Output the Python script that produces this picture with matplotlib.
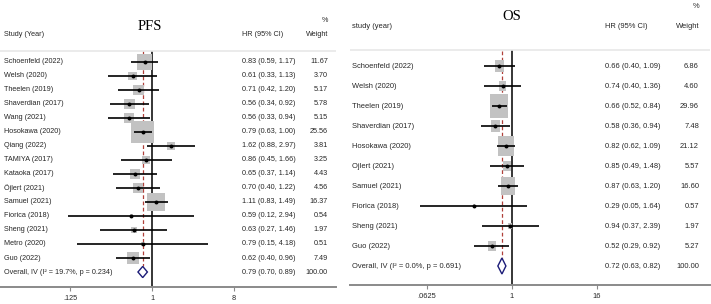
import matplotlib.pyplot as plt
import numpy as np

plt.rcParams['font.family'] = ['Liberation Sans', 'DejaVu Sans']

# PFS panel data
pfs_studies = ['Schoenfeld (2022)', 'Welsh (2020)', 'Theelen (2019)', 'Shaverdian (2017)',
               'Wang (2021)', 'Hosokawa (2020)', 'Qiang (2022)', 'TAMIYA (2017)',
               'Kataoka (2017)', 'Öjlert (2021)', 'Samuel (2021)', 'Fiorica (2018)',
               'Sheng (2021)', 'Metro (2020)', 'Guo (2022)']
pfs_hr = [0.83, 0.61, 0.71, 0.56, 0.56, 0.79, 1.62, 0.86, 0.65, 0.70, 1.11, 0.59, 0.63, 0.79, 0.62]
pfs_lo = [0.59, 0.33, 0.42, 0.34, 0.33, 0.63, 0.88, 0.45, 0.37, 0.40, 0.83, 0.12, 0.27, 0.15, 0.40]
pfs_hi = [1.17, 1.13, 1.20, 0.92, 0.94, 1.00, 2.97, 1.66, 1.14, 1.22, 1.49, 2.94, 1.46, 4.18, 0.96]
pfs_w = [11.67, 3.70, 5.17, 5.78, 5.15, 25.56, 3.81, 3.25, 4.43, 4.56, 16.37, 0.54, 1.97, 0.51, 7.49]
pfs_overall = (0.79, 0.70, 0.89)
pfs_overall_label = 'Overall, IV (I² = 19.7%, p = 0.234)'
pfs_ticks = [0.125, 1, 8]
pfs_ticklabels = ['.125', '1', '8']

# OS panel data
os_studies = ['Schoenfeld (2022)', 'Welsh (2020)', 'Theelen (2019)', 'Shaverdian (2017)',
              'Hosokawa (2020)', 'Ojlert (2021)', 'Samuel (2021)', 'Fiorica (2018)',
              'Sheng (2021)', 'Guo (2022)']
os_hr = [0.66, 0.74, 0.66, 0.58, 0.82, 0.85, 0.87, 0.29, 0.94, 0.52]
os_lo = [0.40, 0.40, 0.52, 0.36, 0.62, 0.49, 0.63, 0.05, 0.37, 0.29]
os_hi = [1.09, 1.36, 0.84, 0.94, 1.09, 1.48, 1.20, 1.64, 2.39, 0.92]
os_w = [6.86, 4.60, 29.96, 7.48, 21.12, 5.57, 16.60, 0.57, 1.97, 5.27]
os_overall = (0.72, 0.63, 0.82)
os_overall_label = 'Overall, IV (I² = 0.0%, p = 0.691)'
os_ticks = [0.0625, 1, 16]
os_ticklabels = ['.0625', '1', '16']

W, H = 711, 304
TXT = '#262626'
BOX = '#c2c2c2'


def draw_panel(ax, title, head, studies, hr, lo, hi, w, overall, overall_label,
               ticks, ticklabels, xlim, ylim, cols, fs, box_k, box_aspect):
    n = len(studies)
    y = np.arange(n)
    ax.set_xscale('log', base=2)
    ax.set_xlim(*xlim)
    ax.set_ylim(*ylim)
    for s in ['top', 'left', 'right']:
        ax.spines[s].set_visible(False)
    ax.spines['bottom'].set_color('#8a8a8a')
    ax.spines['bottom'].set_linewidth(1.4)
    ax.set_yticks([])
    ax.xaxis.set_major_locator(plt.FixedLocator(ticks))
    ax.xaxis.set_minor_locator(plt.NullLocator())
    ax.set_xticklabels(ticklabels)
    ax.tick_params(axis='x', length=3, width=0.8, color='#8a8a8a', labelsize=fs,
                   labelcolor=TXT, pad=2.5)

    tr = ax.get_yaxis_transform()  # x in axes, y in data
    x_lab, x_hr, x_w, x_title = cols
    yh = -2.0
    ax.text(x_lab, yh, head, transform=tr, fontsize=fs, color=TXT, va='center', ha='left')
    ax.text(x_hr, yh, 'HR (95% CI)', transform=tr, fontsize=fs, color=TXT, va='center', ha='left')
    ax.text(x_w, yh, 'Weight', transform=tr, fontsize=fs, color=TXT, va='center', ha='right')
    ax.text(x_w, yh - 1.0, '%', transform=tr, fontsize=fs, color=TXT, va='center', ha='right')
    ax.text(x_title, yh - 0.5, title, transform=tr, fontsize=10.5, color='black',
            va='center', ha='center', family='Liberation Serif')
    ax.axhline(-0.8, color='#e8e8e8', lw=1.2)

    # study rows
    verts = [(-box_aspect / 2, -0.5), (box_aspect / 2, -0.5), (box_aspect / 2, 0.5),
             (-box_aspect / 2, 0.5), (-box_aspect / 2, -0.5)]
    ax.scatter(hr, y, s=np.array(w) * box_k, marker=verts, color=BOX, lw=0, zorder=2)
    ax.hlines(y, lo, hi, color='black', lw=1.2, zorder=3)
    ax.scatter(hr, y, s=8, marker='o', color='black', lw=0, zorder=4)
    for i in range(n):
        ax.text(x_lab, y[i], studies[i], transform=tr, fontsize=fs, color=TXT, va='center')
        ax.text(x_hr, y[i], f'{hr[i]:.2f} ({lo[i]:.2f}, {hi[i]:.2f})', transform=tr,
                fontsize=fs, color=TXT, va='center')
        ax.text(x_w, y[i], f'{w[i]:.2f}', transform=tr, fontsize=fs, color=TXT,
                va='center', ha='right')

    # overall
    est, olo, ohi = overall
    dh = 0.4
    ax.fill([olo, est, ohi, est, olo], [n, n - dh, n, n + dh, n], facecolor='white',
            edgecolor='#1c1c78', lw=1.0, zorder=4)
    ax.text(x_lab, n, overall_label, transform=tr, fontsize=fs, color=TXT, va='center')
    ax.text(x_hr, n, f'{est:.2f} ({olo:.2f}, {ohi:.2f})', transform=tr, fontsize=fs,
            color=TXT, va='center')
    ax.text(x_w, n, '100.00', transform=tr, fontsize=fs, color=TXT, va='center', ha='right')

    ax.vlines(1, -0.8, ylim[0], color='black', lw=1.1, zorder=1)
    ax.vlines(est, -0.75, n - dh, color='#b0403a', lw=0.9, linestyles=(0, (3, 2)), zorder=1)


fig = plt.figure(figsize=(W / 100, H / 100), dpi=100)

# left panel: axis from x=0..336 px, bottom at 287 px; 1 at 152 px, 27.3 px per doubling
ax1 = fig.add_axes([0 / W, (H - 287) / H, 336 / W, 287 / H])
draw_panel(ax1, 'PFS', 'Study (Year)', pfs_studies, pfs_hr, pfs_lo, pfs_hi, pfs_w,
           pfs_overall, pfs_overall_label, pfs_ticks, pfs_ticklabels,
           (2 ** (-152 / 27.3), 2 ** (184 / 27.3)),
           ((287 - 62) / 14, -62 / 14),
           (4 / 336, 242 / 336, 328 / 336, 150 / 336), 5.2, 10.7, 1.0)

# right panel: axis from x=350..710 px, bottom at 285 px; 1 at 512 px, 21.25 px per doubling
ax2 = fig.add_axes([350 / W, (H - 285) / H, 360 / W, 285 / H])
draw_panel(ax2, 'OS', 'study (year)', os_studies, os_hr, os_lo, os_hi, os_w,
           os_overall, os_overall_label, os_ticks, os_ticklabels,
           (2 ** (-162 / 21.25), 2 ** (198 / 21.25)),
           ((285 - 66) / 20, -66 / 20),
           (2 / 360, 255 / 360, 349 / 360, 162 / 360), 5.4, 10.0, 0.76)

fig.savefig('out.png', dpi=100)
